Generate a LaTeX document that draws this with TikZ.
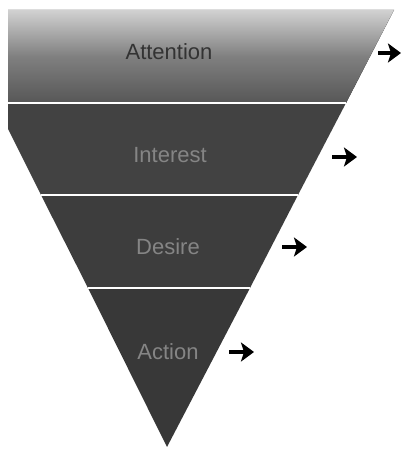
\documentclass[tikz,border=0pt]{standalone}
\usepackage{fontspec}
\setmainfont{Liberation Sans}
\usetikzlibrary{arrows.meta}
\begin{document}
\begin{tikzpicture}[x=0.5pt, y=0.5pt, line join=round,
    band/.style={fill=black!76},
    sep/.style={white, line width=1pt},
    stage/.style={font=\fontsize{11}{13}\selectfont, text=black!48, inner sep=0pt},
    push/.style={-{Stealth[length=6.5pt, width=9.5pt, inset=1.5pt]}, line width=1.6pt}]
  \useasboundingbox (0,0) rectangle (403,450);
  % corners of the funnel
  \coordinate (tl) at (-52,440);
  \coordinate (tr) at (394,440);
  \coordinate (l1) at (-5,347);
  \coordinate (r1) at (346,347);
  \coordinate (l2) at (41,255);
  \coordinate (r2) at (298,255);
  \coordinate (l3) at (88,162);
  \coordinate (r3) at (250,162);
  \coordinate (tip) at (167,3);
  % bands
  \begin{scope}
    \clip (8,0) rectangle (403,446);
    \fill[top color=black!18, bottom color=black!66, middle color=black!50] (tl) -- (tr) -- (r1) -- (l1) -- cycle;
    \fill[band, fill=black!74] (l1) -- (r1) -- (r2) -- (l2) -- cycle;
    \fill[band] (l2) -- (r2) -- (r3) -- (l3) -- cycle;
    \fill[band, fill=black!78] (l3) -- (r3) -- (tip) -- cycle;
    \draw[sep] (l1) -- (r1);
    \draw[sep] (l2) -- (r2);
    \draw[sep] (l3) -- (r3);
  \end{scope}
  % stage names
  \node[stage, text=black!80] (att) at (169,398) {Attention};
  \node[stage] (int) at (170,295) {Interest};
  \node[stage] (des) at (168,203) {Desire};
  \node[stage] (act) at (168,98) {Action};
  % arrows
  \coordinate (a1) at (378,397);
  \coordinate (b1) at (401,397);
  \coordinate (a2) at (332,293);
  \coordinate (b2) at (357,293);
  \coordinate (a3) at (282,203);
  \coordinate (b3) at (307,203);
  \coordinate (a4) at (229,98);
  \coordinate (b4) at (254,98);
  \draw[push] (a1) -- (b1);
  \draw[push] (a2) -- (b2);
  \draw[push] (a3) -- (b3);
  \draw[push] (a4) -- (b4);
\end{tikzpicture}
\end{document}
